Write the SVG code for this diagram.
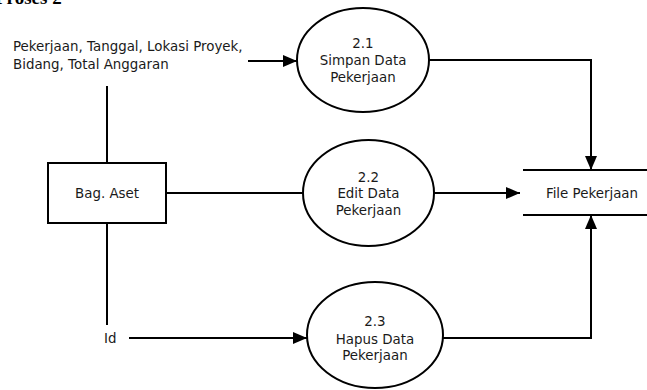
<svg xmlns="http://www.w3.org/2000/svg" width="647" height="390" viewBox="0 0 647 390">
  <style>
    .shape { fill: #ffffff; stroke: #000000; stroke-width: 2; }
    .flow { fill: none; stroke: #000000; stroke-width: 2; }
    .label { font-family: "DejaVu Sans", Verdana, sans-serif; font-size: 13.4px; fill: #1a1a1a; }
    .mid { text-anchor: middle; }
    .title { font-family: "Liberation Serif", "Times New Roman", serif; font-size: 19px; font-weight: bold; fill: #000000; }
  </style>
  <defs>
    <marker id="arrow" viewBox="0 0 14 12" refX="14" refY="6" markerWidth="14" markerHeight="12" markerUnits="userSpaceOnUse" orient="auto">
      <path d="M0,0 L14,6 L0,12 Z" fill="#000000"/>
    </marker>
  </defs>
  <rect width="647" height="390" fill="#ffffff"/>

  <!-- heading, partly above the top edge -->
  <text class="title" x="-5" y="4">Proses 2</text>

  <!-- connectors -->
  <g id="connectors">
    <line class="flow" x1="248" y1="61" x2="297" y2="61" marker-end="url(#arrow)"/>
    <line class="flow" x1="107" y1="86" x2="107" y2="163"/>
    <line class="flow" x1="166" y1="193" x2="303" y2="193"/>
    <line class="flow" x1="107" y1="223" x2="107" y2="325"/>
    <line class="flow" x1="129" y1="338" x2="307" y2="338" marker-end="url(#arrow)"/>
    <line class="flow" x1="434" y1="193" x2="520" y2="193" marker-end="url(#arrow)"/>
    <polyline class="flow" points="429,60 591,60 591,170" marker-end="url(#arrow)"/>
    <polyline class="flow" points="443,338 591,338 591,215" marker-end="url(#arrow)"/>
  </g>

  <!-- data labels -->
  <g id="input-data">
    <text class="label" x="13" y="50.5">Pekerjaan, Tanggal, Lokasi Proyek,</text>
    <text class="label" x="13" y="68.5">Bidang, Total Anggaran</text>
  </g>
  <g id="input-id">
    <text class="label" x="104" y="343">Id</text>
  </g>

  <!-- external entity -->
  <g id="bag-aset">
    <rect class="shape" x="48" y="163" width="118" height="60"/>
    <text class="label mid" x="107" y="198">Bag. Aset</text>
  </g>

  <!-- processes -->
  <g id="p2-1">
    <ellipse class="shape" cx="363" cy="60" rx="66" ry="52"/>
    <text class="label mid" x="363" y="47.5">2.1</text>
    <text class="label mid" x="363" y="65">Simpan Data</text>
    <text class="label mid" x="363" y="82">Pekerjaan</text>
  </g>
  <g id="p2-2">
    <ellipse class="shape" cx="368.5" cy="193" rx="65.5" ry="53"/>
    <text class="label mid" x="368.5" y="182">2.2</text>
    <text class="label mid" x="368.5" y="198">Edit Data</text>
    <text class="label mid" x="368.5" y="215">Pekerjaan</text>
  </g>
  <g id="p2-3">
    <ellipse class="shape" cx="375" cy="335" rx="68" ry="53"/>
    <text class="label mid" x="375" y="326">2.3</text>
    <text class="label mid" x="375" y="343.5">Hapus Data</text>
    <text class="label mid" x="375" y="360">Pekerjaan</text>
  </g>

  <!-- data store -->
  <g id="file-pekerjaan">
    <line class="flow" x1="523" y1="170" x2="647" y2="170"/>
    <line class="flow" x1="523" y1="215" x2="647" y2="215"/>
    <text class="label mid" x="592" y="197.5">File Pekerjaan</text>
  </g>
</svg>
